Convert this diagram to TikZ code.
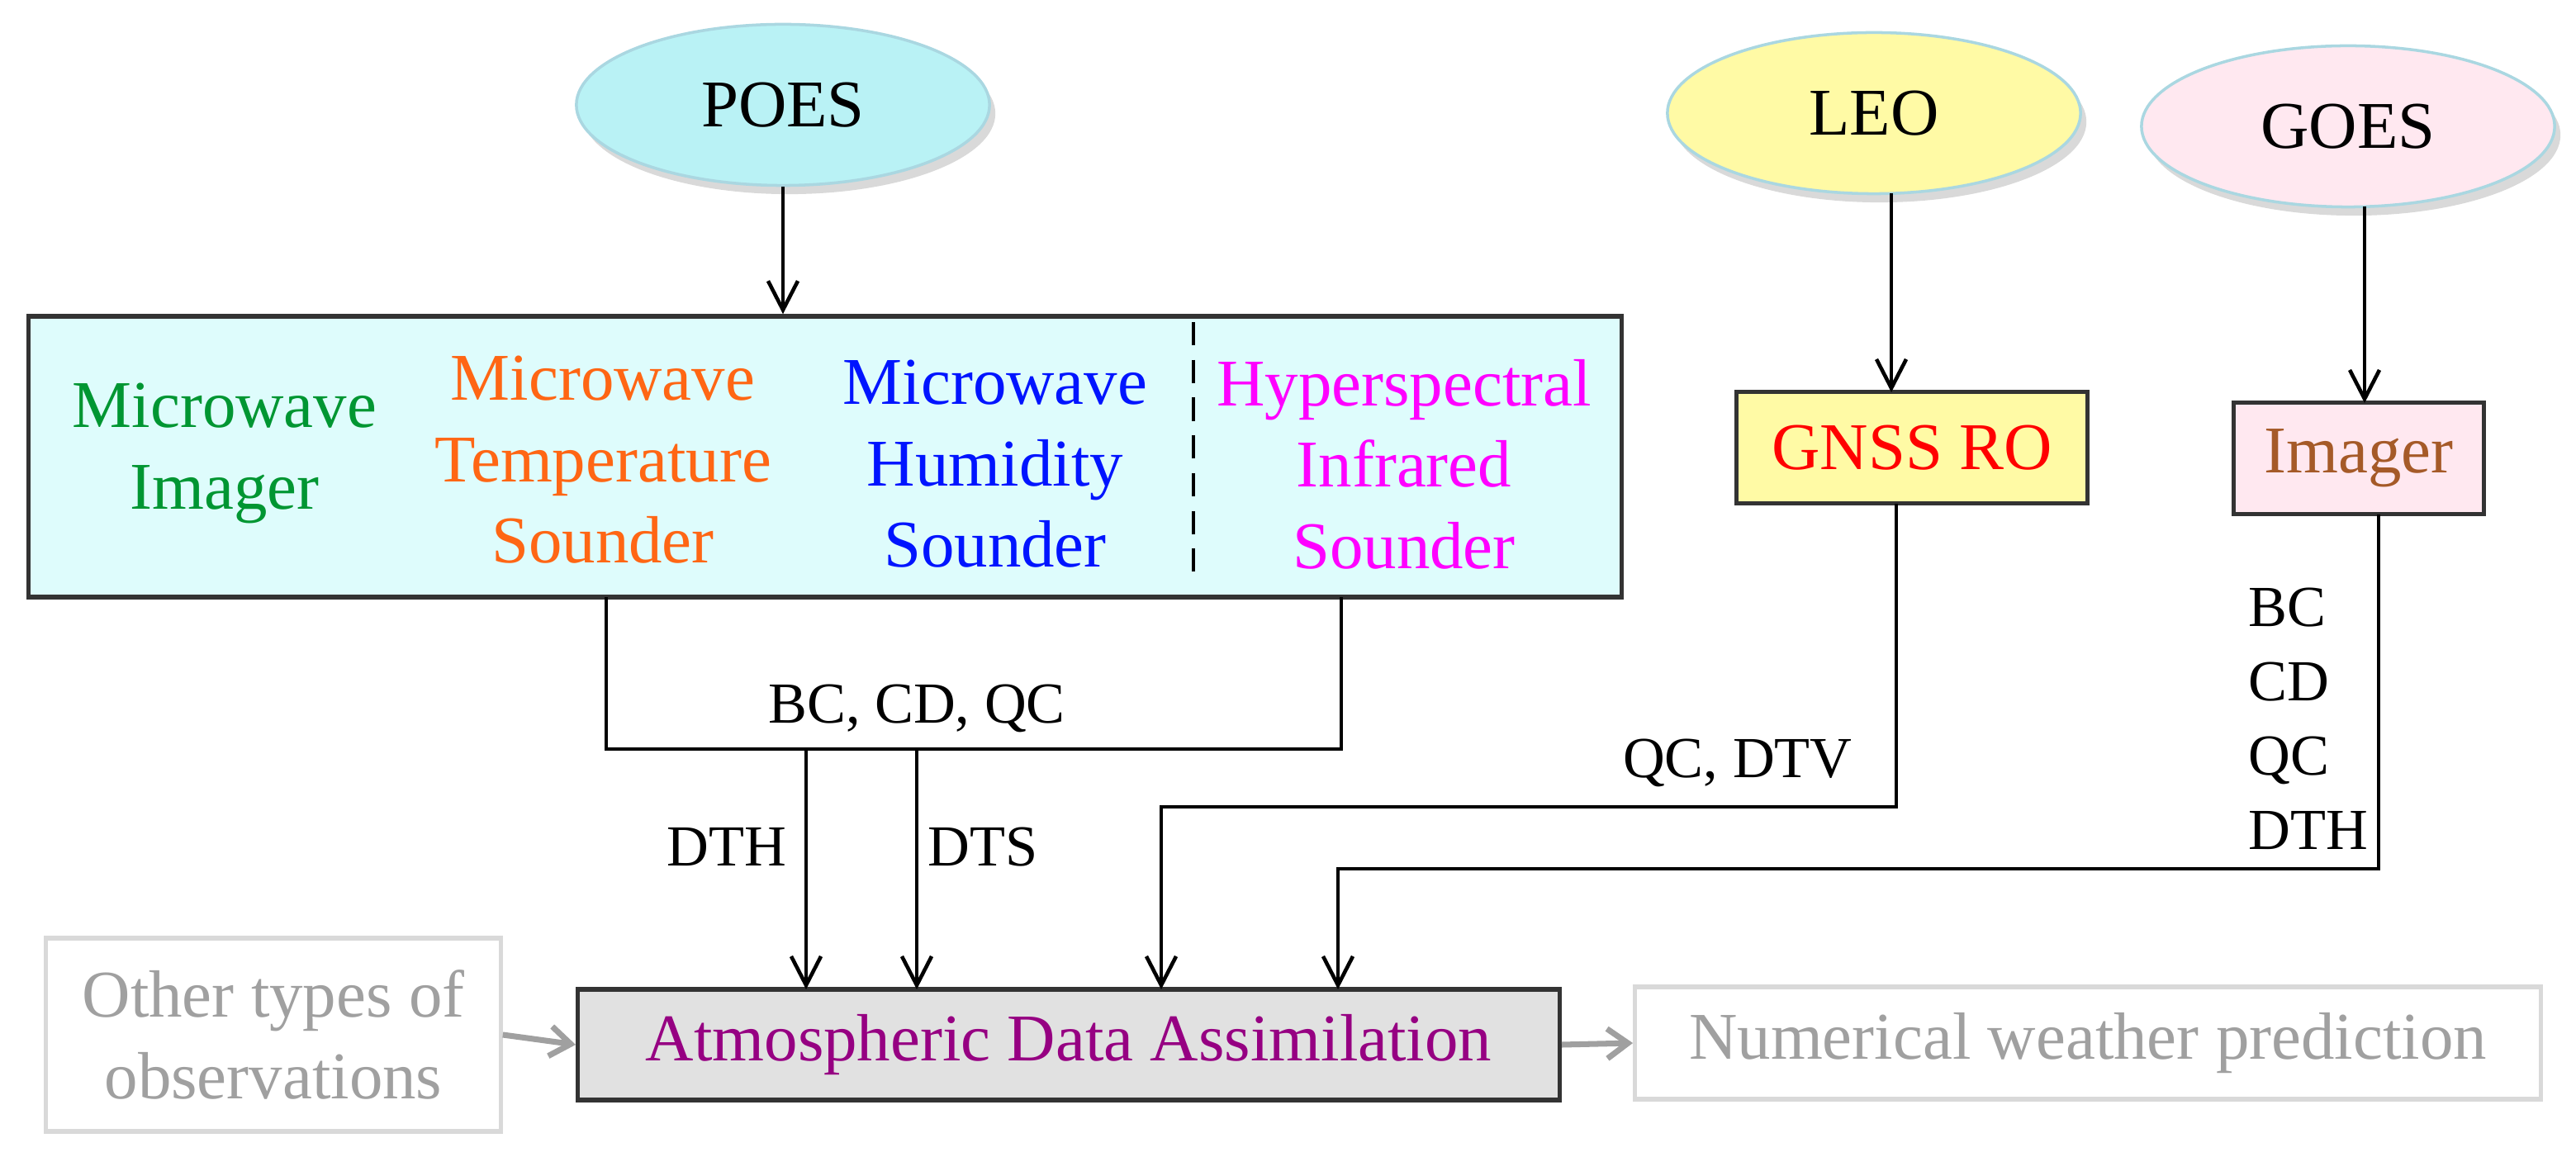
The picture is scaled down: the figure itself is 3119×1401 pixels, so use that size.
\documentclass[tikz,border=0pt]{standalone}
\usepackage{fontspec}
\setmainfont{Liberation Serif}
\usetikzlibrary{arrows.meta,shapes.geometric,shadows}
\definecolor{cgreen}{RGB}{0,150,50}
\definecolor{corange}{RGB}{255,102,20}
\definecolor{cblue}{RGB}{0,20,255}
\definecolor{cmag}{RGB}{255,0,255}
\definecolor{cbrown}{RGB}{165,90,40}
\definecolor{cpurple}{RGB}{150,0,130}
\definecolor{fcyan}{RGB}{222,252,252}
\definecolor{fpoes}{RGB}{185,242,245}
\definecolor{fyel}{RGB}{255,250,165}
\definecolor{fpink}{RGB}{255,232,240}
\definecolor{fgray}{RGB}{225,225,225}
\definecolor{ebord}{RGB}{170,215,225}
\definecolor{tgray}{RGB}{160,160,160}
\begin{document}
\begin{tikzpicture}[x=0.01cm,y=-0.01cm,
  big/.style={font=\fontsize{23}{28}\selectfont},
  lab/.style={font=\fontsize{20}{24}\selectfont},
  sat/.style={ellipse,draw=ebord,line width=1pt,minimum width=5cm,minimum height=1.95cm,big,drop shadow={opacity=0.3,shadow xshift=2pt,shadow yshift=-3pt}},
  box/.style={draw=black!80,line width=1.5pt,inner sep=0pt},
  conn/.style={line width=1pt},
  arr/.style={conn,-{Straight Barb[length=3.5mm,width=3.6mm,line width=1.3pt]}},
  garr/.style={draw=tgray,line width=2pt,-{Straight Barb[length=2.5mm,width=3.6mm,line width=2pt]}},
  gbox/.style={draw=black!15,line width=1.5pt,text=tgray,big,align=center,inner sep=0pt}]
\useasboundingbox (0,0) rectangle (3119,1401);
% satellites
\node[sat,fill=fpoes] (poes) at (948,127) {POES};
\node[sat,fill=fyel] (leo) at (2269,137) {LEO};
\node[sat,fill=fpink] (goes) at (2843,153) {GOES};
% instrument box
\node[box,fill=fcyan,minimum width=19.28cm,minimum height=3.4cm] (inst) at (999,553) {};
\draw[line width=1.2pt,dashed,dash pattern=on 8pt off 5pt] (1445,390) -- (1445,710);
\node[big,text=cgreen,align=center] (mi) at (272,549) {Microwave\\Imager};
\node[big,text=corange,align=center] (mts) at (730,557) {Microwave\\Temperature\\Sounder};
\node[big,text=cblue,align=center] (mhs) at (1205,562) {Microwave\\Humidity\\Sounder};
\node[big,text=cmag,align=center] (his) at (1700,562) {Hyperspectral\\Infrared\\Sounder};
% GNSS, Imager
\node[box,fill=fyel,minimum width=4.25cm,minimum height=1.35cm,big,text=red] (gnss) at (2315,542) {GNSS RO};
\node[box,fill=fpink,minimum width=3.03cm,minimum height=1.35cm,big,text=cbrown] (img) at (2856,555) {Imager};
% bottom
\node[box,fill=fgray,minimum width=11.88cm,minimum height=1.34cm,big,text=cpurple] (ada) at (1294,1265) {Atmospheric Data Assimilation};
\node[gbox,minimum width=5.5cm,minimum height=2.34cm] (oth) at (331,1253) {Other types of\\observations};
\node[gbox,minimum width=10.96cm,minimum height=1.36cm] (nwp) at (2528,1263) {Numerical weather prediction};
% connectors
\draw[arr] (poes.south) -- (inst.north -| poes.south);
\draw[arr] (2290,234) -- (2290,475);
\draw[arr] (2863,250) -- (2863,488);
\coordinate (bl) at (734,907);
\coordinate (br) at (1624,907);
\draw[conn] (734,723) -- (bl) -- (br) -- (1624,723);
\draw[arr] (976,907) -- (976,1198);
\draw[arr] (1110,907) -- (1110,1198);
\coordinate (gk) at (2296,977);
\draw[arr] (2296,610) -- (gk) -- (1406,977) -- (1406,1198);
\coordinate (ik) at (2880,1052);
\draw[arr] (2880,623) -- (ik) -- (1620,1052) -- (1620,1198);
\draw[garr] (oth.east) -- (ada.west);
\draw[garr] (ada.east) -- (nwp.west);
% labels
\node[lab] (l1) at (1110,858) {BC, CD, QC};
\node[lab,anchor=east] (l2) at (2255,924) {QC, DTV};
\node[lab] (l3) at (880,1026) {DTH};
\node[lab] (l4) at (1190,1026) {DTS};
\node[lab,align=left,anchor=north west,font=\fontsize{20}{25.5}\selectfont] (l5) at (2710,700) {BC\\CD\\QC\\DTH};
\end{tikzpicture}
\end{document}
